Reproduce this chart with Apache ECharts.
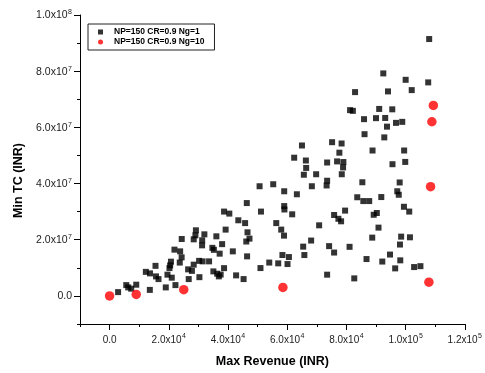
<!DOCTYPE html>
<html>
<head>
<meta charset="utf-8">
<script src="https://cdn.jsdelivr.net/npm/echarts@6/dist/echarts.min.js"></script>
<style>
  html, body { margin: 0; padding: 0; background: #fff; }
  #chart { width: 485px; height: 373px; }
</style>
</head>
<body>
<div id="chart"></div>
<script>
// NP=150 CR=0.9 Ng=1 : max revenue (INR) vs. min total cost (INR)
const revenueNg1 = [
  2870, 5630, 6300, 7310, 9000, 13590, 12240, 13650, 15510, 15680,
  16520, 18980, 19550, 20460, 20730, 20230, 21000, 21910, 22250, 23830,
  24340, 23700, 24370, 26530, 26730, 27810, 28420, 28420, 28990, 29160,
  30340, 30240, 31420, 31250, 31280, 32020, 33610, 34720, 35230, 35060,
  36070, 36340, 36910, 37520, 37180, 38020, 38670, 39200, 38670, 40450,
  41630, 42740, 43490, 45270, 45780, 46350, 46590, 46450, 46180, 47260,
  50670, 51140, 50970, 53940, 55280, 56300, 56970, 58390, 57980, 58990,
  58930, 58990, 59060, 60110, 60580, 63270, 61690, 70790, 75850, 77300,
  78210, 79560, 68090, 65400, 65800, 74160, 75850, 81070, 73490, 62360,
  66310, 66410, 65630, 69780, 73490, 76860, 78980, 78880, 78440, 77630,
  73490, 73320, 68330, 85390, 88830, 95570, 99880, 99510, 98000, 97190,
  97690, 91790, 83670, 85720, 87710, 99440, 101230, 90280, 89230, 90850,
  88730, 98500, 101470, 98100, 86800, 92130, 94730, 98200, 96480, 102880,
  105010, 82660, 64990, 75170, 78380, 81240, 82190, 91080, 95500, 85960,
  90010, 93110, 96750, 98870, 93710, 86130, 92800, 107970, 92470, 100020,
  107640, 82930, 94050, 102070
];
const costNg1 = [
  1.35e6, 3.85e6, 3.03e6, 2.57e6, 3.99e6, 2.14e6, 8.56e6, 8.02e6, 10.70e6, 6.95e6,
  5.99e6, 3.03e6, 7.56e6, 10.87e6, 12.19e6, 9.91e6, 6.49e6, 16.47e6, 3.85e6, 15.86e6,
  13.73e6, 11.87e6, 20.25e6, 9.45e6, 5.99e6, 8.91e6, 11.12e6, 20.14e6, 21.57e6, 23.35e6,
  6.67e6, 12.48e6, 12.30e6, 18.00e6, 19.79e6, 21.92e6, 12.30e6, 17.11e6, 16.40e6, 8.73e6,
  21.21e6, 7.91e6, 6.95e6, 7.59e6, 15.04e6, 18.43e6, 9.88e6, 23.60e6, 30.02e6, 29.30e6,
  15.86e6, 7.31e6, 26.92e6, 5.99e6, 25.92e6, 33.05e6, 22.64e6, 14.08e6, 19.36e6, 20.39e6,
  39.04e6, 30.02e6, 9.91e6, 11.87e6, 39.75e6, 25.92e6, 11.59e6, 14.55e6, 23.60e6, 37.25e6,
  21.46e6, 31.98e6, 30.77e6, 11.34e6, 13.83e6, 36.18e6, 29.05e6, 25.13e6, 28.81e6, 27.45e6,
  26.56e6, 30.37e6, 19.71e6, 17.54e6, 14.55e6, 17.72e6, 15.44e6, 17.47e6, 7.56e6, 49.20e6,
  48.20e6, 45.56e6, 43.14e6, 43.31e6, 47.49e6, 47.88e6, 47.66e6, 45.74e6, 43.31e6, 50.98e6,
  41.00e6, 39.32e6, 39.04e6, 40.46e6, 51.76e6, 46.88e6, 47.70e6, 51.76e6, 40.39e6, 37.25e6,
  36.01e6, 35.19e6, 35.12e6, 33.76e6, 33.76e6, 31.73e6, 30.02e6, 29.52e6, 28.88e6, 24.31e6,
  20.75e6, 21.10e6, 20.86e6, 18.29e6, 13.12e6, 12.23e6, 14.72e6, 12.66e6, 9.80e6, 10.27e6,
  10.59e6, 6.24e6, 53.55e6, 54.72e6, 54.26e6, 66.13e6, 65.88e6, 66.56e6, 66.42e6, 62.92e6,
  63.28e6, 63.35e6, 61.60e6, 61.96e6, 60.25e6, 57.57e6, 56.43e6, 91.44e6, 79.21e6, 76.93e6,
  76.01e6, 72.55e6, 72.80e6, 73.26e6
];

// NP=150 CR=0.9 Ng=10
const revenueNg10 = [0, 9000, 25050, 58550, 107870, 108440, 108880, 109380];
const costNg10 = [0, 0.53e6, 2.2e6, 3.0e6, 4.9e6, 38.9e6, 62.0e6, 67.8e6];

const seriesNames = ['NP=150 CR=0.9 Ng=1', 'NP=150 CR=0.9 Ng=10'];

// Tick positions
const xMajorTicks = [0, 2e4, 4e4, 6e4, 8e4, 1e5, 1.2e5];
const xMinorTicks = [-1e4, 1e4, 3e4, 5e4, 7e4, 9e4, 1.1e5];
const yMajorTicks = [0, 2e7, 4e7, 6e7, 8e7, 1e8];
const yMinorTicks = [-1e7, 1e7, 3e7, 5e7, 7e7, 9e7];

const zip = (xs, ys) => xs.map((x, i) => [x, ys[i]]);

// "2.0x10^4" style labels with a raised exponent
function sciLabel(v) {
  if (v === 0) return '{b|0.0}';
  const e = Math.floor(Math.log10(Math.abs(v)) + 1e-9);
  const m = v / Math.pow(10, e);
  return '{b|' + m.toFixed(1) + 'x10}{s|' + e + '}';
}

const FONT = 'Liberation Sans, Arial, sans-serif';
const labelRich = (size) => ({
  b: { fontSize: size, fontFamily: FONT, color: '#222', lineHeight: 12, verticalAlign: 'bottom' },
  s: { fontSize: 7, fontFamily: FONT, color: '#222', lineHeight: 7, verticalAlign: 'top', padding: [0, 0, 0, 0.5] }
});

const chart = echarts.init(document.getElementById('chart'), null, { renderer: 'canvas' });

chart.setOption({
  animation: false,
  backgroundColor: '#fff',
  grid: { left: 80, right: 20, top: 15, bottom: 49, containLabel: false },
  legend: {
    left: 88,
    top: 24,
    orient: 'vertical',
    backgroundColor: '#fff',
    borderColor: '#222',
    borderWidth: 1,
    borderRadius: 0,
    padding: [3.5, 10, 3.5, 10],
    itemGap: 1,
    itemWidth: 5,
    itemHeight: 5,
    textStyle: {
      fontFamily: FONT, fontSize: 8.5, fontWeight: 'bold', color: '#000',
      lineHeight: 9, padding: [0, 0, 0, 6]
    },
    data: [
      { name: seriesNames[0], icon: 'rect' },
      { name: seriesNames[1], icon: 'circle' }
    ]
  },
  xAxis: [
    {
      type: 'value', min: -1e4, max: 1.2e5, interval: 1e4,
      position: 'bottom',
      name: 'Max Revenue (INR)', nameLocation: 'middle', nameGap: 31,
      nameTextStyle: { fontFamily: FONT, fontSize: 12.5, fontWeight: 'bold', color: '#000' },
      axisLine: { onZero: false, lineStyle: { color: '#000', width: 1 } },
      axisTick: { customValues: xMajorTicks, length: 6, inside: false, lineStyle: { color: '#000' } },
      axisLabel: { customValues: xMajorTicks, margin: 9, formatter: sciLabel, rich: labelRich(10) },
      splitLine: { show: false }
    },
    {
      type: 'value', min: -1e4, max: 1.2e5, interval: 1e4,
      position: 'bottom',
      axisLine: { show: false, onZero: false },
      axisTick: { customValues: xMinorTicks, length: 3, inside: false, lineStyle: { color: '#000' } },
      axisLabel: { show: false },
      splitLine: { show: false }
    }
  ],
  yAxis: [
    {
      type: 'value', min: -1e7, max: 1e8, interval: 1e7,
      position: 'left',
      name: 'Min TC (INR)', nameLocation: 'middle', nameGap: 55, nameRotate: 90,
      nameTextStyle: { fontFamily: FONT, fontSize: 12.5, fontWeight: 'bold', color: '#000', padding: [0, 22, 0, 0] },
      axisLine: { onZero: false, lineStyle: { color: '#000', width: 1 } },
      axisTick: { customValues: yMajorTicks, length: 6, inside: false, lineStyle: { color: '#000' } },
      axisLabel: { customValues: yMajorTicks, margin: 8, formatter: sciLabel, rich: labelRich(10.5) },
      splitLine: { show: false }
    },
    {
      type: 'value', min: -1e7, max: 1e8, interval: 1e7,
      position: 'left',
      axisLine: { show: false, onZero: false },
      axisTick: { customValues: yMinorTicks, length: 3, inside: false, lineStyle: { color: '#000' } },
      axisLabel: { show: false },
      splitLine: { show: false }
    }
  ],
  series: [
    {
      name: seriesNames[0], type: 'scatter', xAxisIndex: 0, yAxisIndex: 0,
      symbol: 'rect', symbolSize: 6,
      itemStyle: { color: '#000' },
      data: zip(revenueNg1, costNg1)
    },
    {
      name: seriesNames[1], type: 'scatter', xAxisIndex: 0, yAxisIndex: 0,
      symbol: 'circle', symbolSize: 9.5,
      itemStyle: { color: '#ff0000' },
      data: zip(revenueNg10, costNg10)
    }
  ]
});
</script>
</body>
</html>
